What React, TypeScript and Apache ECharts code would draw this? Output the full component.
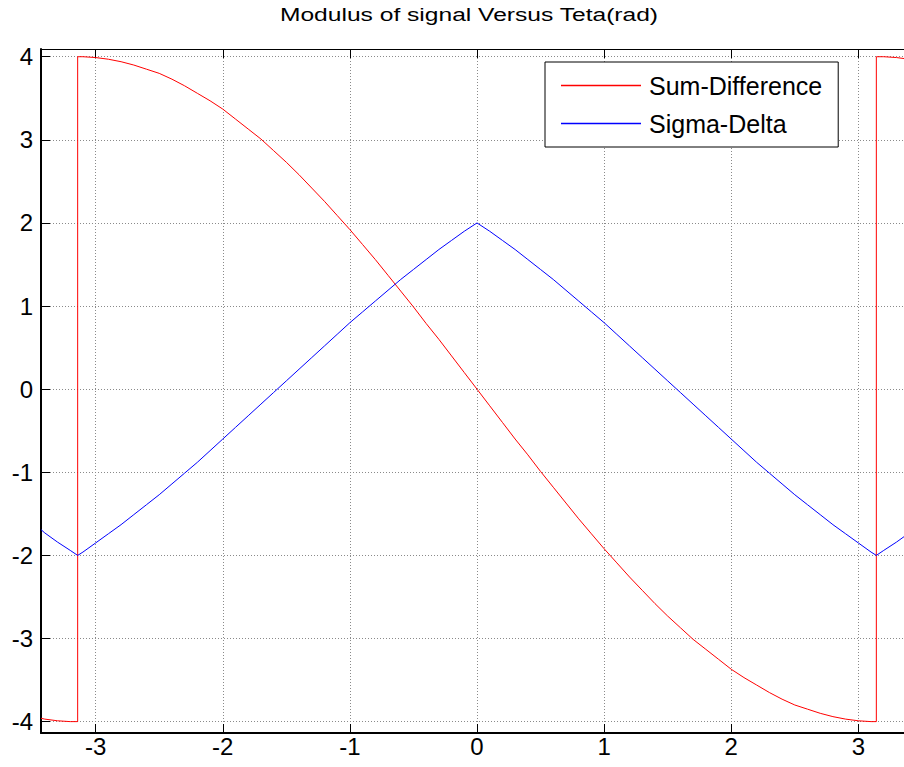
import React, { useEffect, useRef } from "react";
import * as echarts from "echarts";

const thetas = [
  -3.43, -3.4, -3.3, -3.2, -3.1416, -3.1416,
  -3.1, -3.0, -2.9, -2.8, -2.7, -2.6, -2.5, -2.4, -2.3, -2.2,
  -2.1, -2.0, -1.9, -1.8, -1.7, -1.6, -1.5, -1.4, -1.3, -1.2,
  -1.1, -1.0, -0.9, -0.8, -0.7, -0.6, -0.5, -0.4, -0.3, -0.2, -0.1,
  0,
  0.1, 0.2, 0.3, 0.4, 0.5, 0.6, 0.7, 0.8, 0.9, 1.0,
  1.1, 1.2, 1.3, 1.4, 1.5, 1.6, 1.7, 1.8, 1.9, 2.0,
  2.1, 2.2, 2.3, 2.4, 2.5, 2.6, 2.7, 2.8, 2.9, 3.0, 3.1,
  3.1416, 3.1416, 3.2, 3.3, 3.4, 3.43,
];

const sumDifference = [
  -3.96, -3.97, -3.99, -4.0, -4.0, 4.0,
  4.0, 3.99, 3.97, 3.94, 3.9, 3.85, 3.8, 3.73, 3.65, 3.56,
  3.47, 3.37, 3.25, 3.13, 3.01, 2.87, 2.73, 2.58, 2.42, 2.26,
  2.09, 1.92, 1.74, 1.56, 1.37, 1.18, 0.99, 0.79, 0.6, 0.4, 0.2,
  0,
  -0.2, -0.4, -0.6, -0.79, -0.99, -1.18, -1.37, -1.56, -1.74, -1.92,
  -2.09, -2.26, -2.42, -2.58, -2.73, -2.87, -3.01, -3.13, -3.25, -3.37,
  -3.47, -3.56, -3.65, -3.73, -3.8, -3.85, -3.9, -3.94, -3.97, -3.99, -4.0,
  -4.0, 4.0, 4.0, 3.99, 3.97, 3.96,
];

const sigmaDelta = [
  -1.69, -1.73, -1.84, -1.94, -2.0, -2.0,
  -1.96, -1.85, -1.74, -1.63, -1.51, -1.39, -1.27, -1.14, -1.01, -0.88,
  -0.74, -0.6, -0.46, -0.32, -0.18, -0.04, 0.1, 0.24, 0.38, 0.52,
  0.66, 0.8, 0.93, 1.06, 1.19, 1.32, 1.44, 1.56, 1.68, 1.79, 1.9,
  2.0,
  1.9, 1.79, 1.68, 1.56, 1.44, 1.32, 1.19, 1.06, 0.93, 0.8,
  0.66, 0.52, 0.38, 0.24, 0.1, -0.04, -0.18, -0.32, -0.46, -0.6,
  -0.74, -0.88, -1.01, -1.14, -1.27, -1.39, -1.51, -1.63, -1.74, -1.85, -1.96,
  -2.0, -2.0, -1.94, -1.84, -1.73, -1.69,
];

const seriesNames = ["Sum-Difference", "Sigma-Delta"];
const titleText = "Modulus of signal Versus Teta(rad)";
const xRange = [-3.43, 3.43];
const yRange = [-4.137, 4.093];

export default function App() {
  const ref = useRef<HTMLDivElement>(null);
  useEffect(() => {
    if (!ref.current) return;
    const chart = echarts.init(ref.current, null, { renderer: "svg" });
    const font = "'Liberation Sans', Arial, Helvetica, sans-serif";
    const intLabel = (v: number) => (Math.abs(v - Math.round(v)) < 1e-9 ? String(Math.round(v)) : "");
    const gridLine = { show: true, lineStyle: { color: "#8a8a8a", width: 1, type: [1, 2] } };
    chart.setOption({
      animation: false,
      backgroundColor: "#ffffff",
      textStyle: { fontFamily: font },
      grid: { left: 41, right: 0, top: 49, bottom: 34, containLabel: false, outerBoundsMode: "none" },
      graphic: [
        {
          type: "text",
          x: 469,
          y: 15,
          scaleX: 1.33,
          style: {
            text: titleText,
            fontSize: 18.5,
            fontFamily: font,
            fill: "#000",
            align: "center",
            verticalAlign: "middle",
            textAlign: "center",
            textVerticalAlign: "middle",
          },
        },
      ],
      legend: {
        data: seriesNames,
        orient: "vertical",
        left: 545,
        top: 62,
        icon: "rect",
        itemWidth: 80,
        itemHeight: 1.5,
        itemGap: 13,
        padding: [11, 16, 11, 16],
        borderColor: "#000",
        borderWidth: 1,
        borderRadius: 0,
        backgroundColor: "#fff",
        selectedMode: false,
        textStyle: { fontSize: 25, color: "#000", lineHeight: 25, fontFamily: font, padding: [0, 0, 0, 3] },
      },
      xAxis: [
        {
          type: "value",
          min: xRange[0],
          max: xRange[1],
          minInterval: 1,
          maxInterval: 1,
          position: "bottom",
          axisLine: { show: true, onZero: false, lineStyle: { color: "#000", width: 2 } },
          axisTick: { show: true, inside: true, length: 9, lineStyle: { color: "#000", width: 1 } },
          axisLabel: { show: true, formatter: intLabel, fontSize: 24, color: "#000", margin: 1, fontFamily: font, showMinLabel: true, showMaxLabel: true },
          splitLine: gridLine,
        },
        {
          type: "value",
          min: xRange[0],
          max: xRange[1],
          minInterval: 1,
          maxInterval: 1,
          position: "top",
          axisLine: { show: true, onZero: false, lineStyle: { color: "#000", width: 1 } },
          axisTick: { show: true, inside: true, length: 9, lineStyle: { color: "#000", width: 1 } },
          axisLabel: { show: false },
          splitLine: { show: false },
        },
      ],
      yAxis: [
        {
          type: "value",
          min: yRange[0],
          max: yRange[1],
          minInterval: 1,
          maxInterval: 1,
          position: "left",
          axisLine: { show: true, onZero: false, lineStyle: { color: "#000", width: 2 } },
          axisTick: { show: true, inside: true, length: 9, lineStyle: { color: "#000", width: 1 } },
          axisLabel: { show: true, formatter: intLabel, fontSize: 24, color: "#000", margin: 8, fontFamily: font, showMinLabel: true, showMaxLabel: true },
          splitLine: gridLine,
        },
        {
          type: "value",
          min: yRange[0],
          max: yRange[1],
          minInterval: 1,
          maxInterval: 1,
          position: "right",
          axisLine: { show: true, onZero: false, lineStyle: { color: "#000", width: 1 } },
          axisTick: { show: true, inside: true, length: 9, lineStyle: { color: "#000", width: 1 } },
          axisLabel: { show: false },
          splitLine: { show: false },
        },
      ],
      series: [
        {
          name: seriesNames[0],
          type: "line",
          xAxisIndex: 0,
          yAxisIndex: 0,
          data: thetas.map((t, i) => [t, sumDifference[i]]),
          symbol: "none",
          showSymbol: false,
          lineStyle: { color: "#ff0000", width: 1 },
          itemStyle: { color: "#ff0000" },
          emphasis: { disabled: true },
          z: 3,
        },
        {
          name: seriesNames[1],
          type: "line",
          xAxisIndex: 0,
          yAxisIndex: 0,
          data: thetas.map((t, i) => [t, sigmaDelta[i]]),
          symbol: "none",
          showSymbol: false,
          lineStyle: { color: "#0000ff", width: 1 },
          itemStyle: { color: "#0000ff" },
          emphasis: { disabled: true },
          z: 3,
        },
      ],
    });
    return () => chart.dispose();
  }, []);
  return (
    <div style={{ position: "absolute", left: 0, top: 0, width: 904, height: 767, overflow: "hidden", background: "#fff" }}>
      <div ref={ref} style={{ width: 913, height: 767 }} />
    </div>
  );
}
